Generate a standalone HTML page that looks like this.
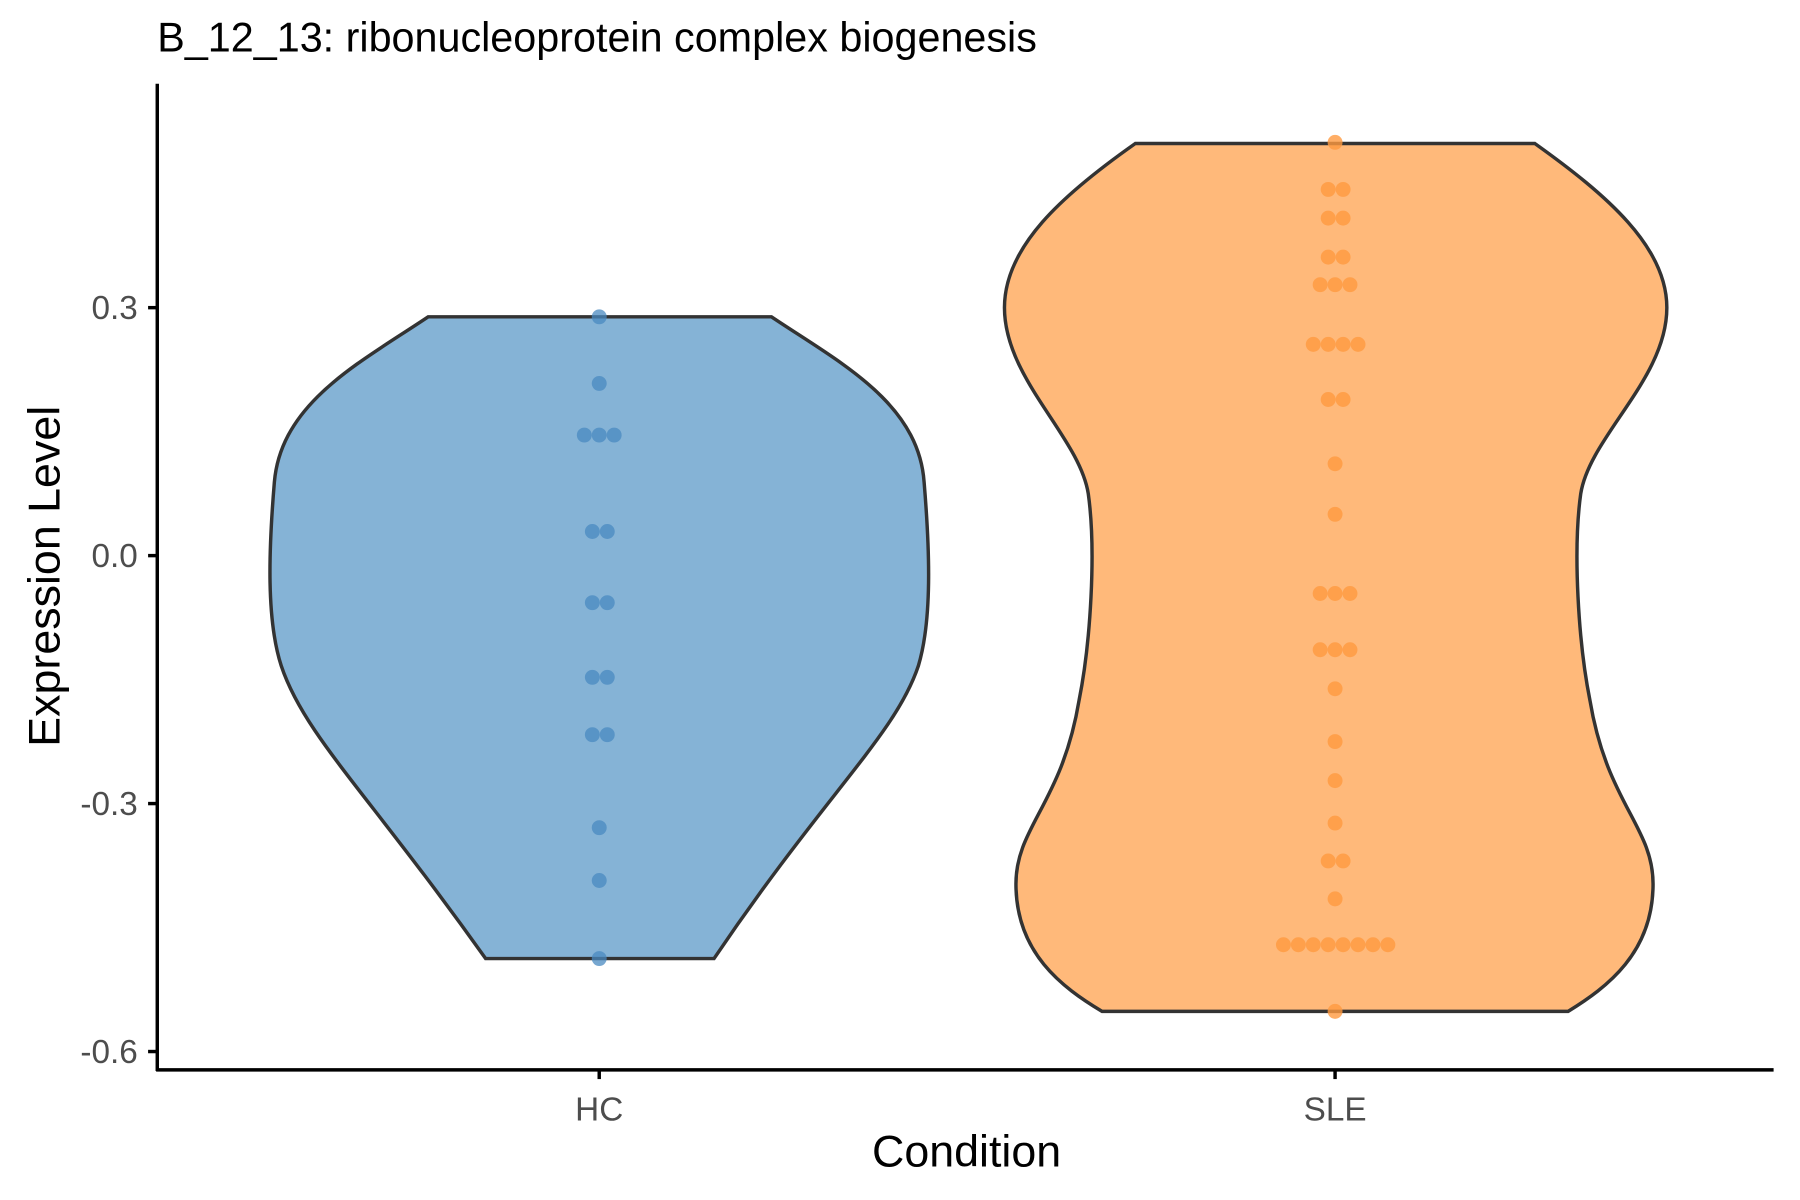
<!DOCTYPE html>
<html><head><meta charset="utf-8"><style>html,body{margin:0;padding:0;background:#fff}svg{display:block}</style></head>
<body>
<svg width="1800" height="1200" viewBox="0 0 1568 1045.33" preserveAspectRatio="none" xmlns="http://www.w3.org/2000/svg" font-family="Liberation Sans, Arial, sans-serif">
<rect width="1568" height="1046" fill="#fff"/>
<path d="M373,276 L672,276 C730,315 800,350 805,420 C810,480 812,540 800,580 C780,640 720,690 622,835 L423,835 C320,690 265,640 245,580 C232,540 234,480 239,420 C245,350 315,315 373,276 Z" fill="#85b3d6" stroke="#333" stroke-width="3"/>
<path d="M989,125 L1337,125 C1400,170 1452,215 1452,268 C1452,330 1385,380 1377,430 C1370,480 1375,560 1385,610 C1400,700 1440,720 1440,770 C1440,830 1400,860 1366,881 L960,881 C925,860 885,830 885,770 C885,720 925,700 940,610 C950,560 955,480 948,430 C940,380 875,330 875,268 C875,215 925,170 989,125 Z" fill="#ffb97a" stroke="#333" stroke-width="3"/>
<g fill="#4a8ac0" fill-opacity="0.75">
<circle cx="522" cy="276" r="6.5"/><circle cx="522" cy="334" r="6.5"/>
<circle cx="509" cy="379" r="6.5"/><circle cx="522" cy="379" r="6.5"/><circle cx="535" cy="379" r="6.5"/>
<circle cx="516" cy="463" r="6.5"/><circle cx="529" cy="463" r="6.5"/>
<circle cx="516" cy="525" r="6.5"/><circle cx="529" cy="525" r="6.5"/>
<circle cx="516" cy="590" r="6.5"/><circle cx="529" cy="590" r="6.5"/>
<circle cx="516" cy="640" r="6.5"/><circle cx="529" cy="640" r="6.5"/>
<circle cx="522" cy="721" r="6.5"/><circle cx="522" cy="767" r="6.5"/><circle cx="522" cy="835" r="6.5"/>
</g>
<g fill="#ff9a40" fill-opacity="0.8">
<circle cx="1163" cy="124" r="6.5"/>
<circle cx="1157" cy="165" r="6.5"/><circle cx="1170" cy="165" r="6.5"/>
<circle cx="1157" cy="190" r="6.5"/><circle cx="1170" cy="190" r="6.5"/>
<circle cx="1157" cy="224" r="6.5"/><circle cx="1170" cy="224" r="6.5"/>
<circle cx="1150" cy="248" r="6.5"/><circle cx="1163" cy="248" r="6.5"/><circle cx="1176" cy="248" r="6.5"/>
<circle cx="1144" cy="300" r="6.5"/><circle cx="1157" cy="300" r="6.5"/><circle cx="1170" cy="300" r="6.5"/><circle cx="1183" cy="300" r="6.5"/>
<circle cx="1157" cy="348" r="6.5"/><circle cx="1170" cy="348" r="6.5"/>
<circle cx="1163" cy="404" r="6.5"/><circle cx="1163" cy="448" r="6.5"/>
<circle cx="1150" cy="517" r="6.5"/><circle cx="1163" cy="517" r="6.5"/><circle cx="1176" cy="517" r="6.5"/>
<circle cx="1150" cy="566" r="6.5"/><circle cx="1163" cy="566" r="6.5"/><circle cx="1176" cy="566" r="6.5"/>
<circle cx="1163" cy="600" r="6.5"/><circle cx="1163" cy="646" r="6.5"/><circle cx="1163" cy="680" r="6.5"/><circle cx="1163" cy="717" r="6.5"/>
<circle cx="1157" cy="750" r="6.5"/><circle cx="1170" cy="750" r="6.5"/>
<circle cx="1163" cy="783" r="6.5"/>
<circle cx="1118" cy="823" r="6.5"/><circle cx="1131" cy="823" r="6.5"/><circle cx="1144" cy="823" r="6.5"/><circle cx="1157" cy="823" r="6.5"/><circle cx="1170" cy="823" r="6.5"/><circle cx="1183" cy="823" r="6.5"/><circle cx="1196" cy="823" r="6.5"/><circle cx="1209" cy="823" r="6.5"/>
<circle cx="1163" cy="881" r="6.5"/>
</g>
<g stroke="#000" stroke-width="3" fill="none">
<line x1="137" y1="73" x2="137" y2="933"/>
<line x1="136" y1="932" x2="1545" y2="932"/>
<line x1="129" y1="268" x2="137" y2="268"/><line x1="129" y1="484" x2="137" y2="484"/>
<line x1="129" y1="700" x2="137" y2="700"/><line x1="129" y1="916" x2="137" y2="916"/>
<line x1="522" y1="932" x2="522" y2="940"/><line x1="1163" y1="932" x2="1163" y2="940"/>
</g>
<g fill="#4d4d4d" font-size="29" text-anchor="end">
<text x="120" y="278">0.3</text><text x="120" y="494">0.0</text>
<text x="120" y="710">-0.3</text><text x="120" y="926">-0.6</text>
</g>
<g fill="#4d4d4d" font-size="29" text-anchor="middle">
<text x="522" y="976">HC</text><text x="1163" y="976">SLE</text>
</g>
<text x="842" y="1016" font-size="39" text-anchor="middle">Condition</text>
<text transform="translate(52,502) rotate(-90)" font-size="39" text-anchor="middle">Expression Level</text>
<text x="137" y="45" font-size="36">B_12_13: ribonucleoprotein complex biogenesis</text>
</svg>
</body></html>
